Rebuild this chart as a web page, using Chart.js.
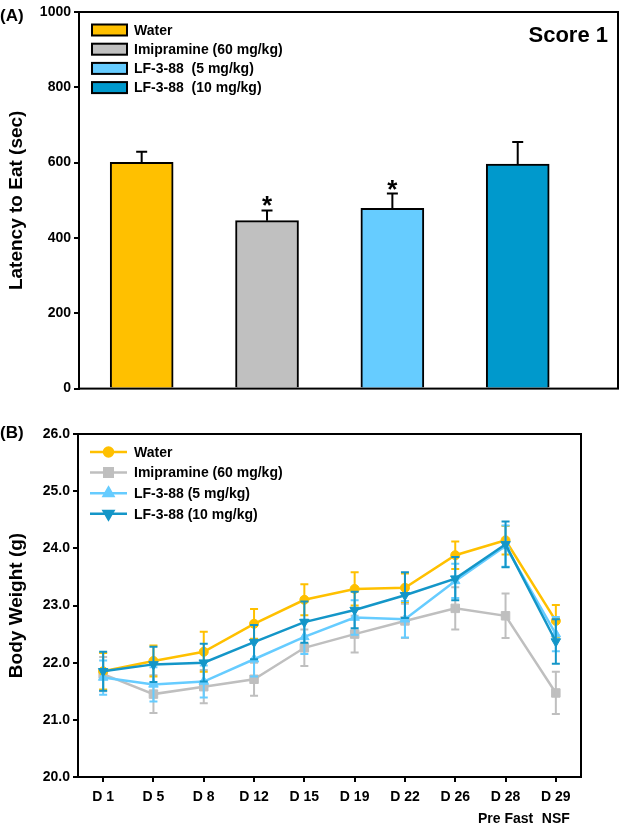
<!DOCTYPE html>
<html>
<head>
<meta charset="utf-8">
<script src="https://cdn.jsdelivr.net/npm/chart.js@4.4.1/dist/chart.umd.min.js"></script>
<style>
    body { margin: 0; background: #fff; }
    .wrap { position: relative; width: 622px; height: 831px; font-family: "Liberation Sans", Arial, sans-serif; }
    canvas { position: absolute; left: 0; }
    .tag { position: absolute; font-weight: bold; color: #000; line-height: 1; white-space: nowrap; }
</style>
</head>
<body>
<div class="wrap">
    <canvas id="latencyChart" width="622" height="400" style="top: 0;"></canvas>
    <canvas id="weightChart" width="622" height="431" style="top: 400px;"></canvas>
    <div class="tag" style="left: 0; top: 7px; font-size: 17px;">(A)</div>
    <div class="tag" style="left: 0; top: 424px; font-size: 17px;">(B)</div>
    <div class="tag" style="right: 14px; top: 24px; font-size: 22px;">Score 1</div>
</div>
<script>
// ---- data: panel A (latency to eat) ----
const groups = ['Water', 'Imipramine (60 mg/kg)', 'LF-3-88  (5 mg/kg)', 'LF-3-88  (10 mg/kg)'];
const latency = [601, 446, 479, 596];
const latencySem = [28, 27, 39, 59];
const significant = [false, true, true, false];
const latencyTicks = [0, 200, 400, 600, 800, 1000];

// ---- data: panel B (body weight) ----
const days = ['D 1', 'D 5', 'D 8', 'D 12', 'D 15', 'D 19', 'D 22', 'D 26', ['D 28', 'Pre Fast'], ['D 29', 'NSF']];
const seriesNames = ['Water', 'Imipramine (60 mg/kg)', 'LF-3-88 (5 mg/kg)', 'LF-3-88 (10 mg/kg)'];
const water = [21.85, 22.03, 22.19, 22.68, 23.10, 23.29, 23.31, 23.88, 24.14, 22.73];
const imipramine = [21.80, 21.45, 21.58, 21.71, 22.26, 22.50, 22.73, 22.95, 22.82, 21.47];
const lf5 = [21.74, 21.62, 21.67, 22.06, 22.45, 22.79, 22.76, 23.43, 24.04, 22.50];
const lf10 = [21.85, 21.97, 22.00, 22.36, 22.71, 22.92, 23.18, 23.47, 24.07, 22.37];
const waterSem = [0.32, 0.27, 0.35, 0.26, 0.27, 0.29, 0.25, 0.24, 0.25, 0.28];
const imipramineSem = [0.30, 0.33, 0.29, 0.29, 0.32, 0.32, 0.30, 0.37, 0.39, 0.37];
const lf5Sem = [0.30, 0.30, 0.28, 0.30, 0.30, 0.30, 0.32, 0.30, 0.36, 0.30];
const lf10Sem = [0.34, 0.31, 0.33, 0.30, 0.36, 0.32, 0.40, 0.38, 0.40, 0.39];
const weightTicks = [20, 21, 22, 23, 24, 25, 26];

const FONT = '"Liberation Sans", Arial, sans-serif';
const barColors = ['#FFC000', '#C0C0C0', '#66CCFF', '#0099CC'];
const lineColors = ['#FFC000', '#BFBFBF', '#66CCFF', '#1496C8'];

// frame round the plot area
const boxPlugin = {
    id: 'box',
    afterDraw(chart) {
        const { ctx, chartArea: a } = chart;
        ctx.save();
        ctx.strokeStyle = '#000';
        ctx.lineWidth = 2;
        ctx.strokeRect(a.left, a.top, a.right - a.left, a.bottom - a.top);
        ctx.restore();
    }
};

// panel A: SEM (upper only), asterisks, legend
const barExtras = {
    id: 'barExtras',
    afterDatasetsDraw(chart) {
        const { ctx, scales: { x, y } } = chart;
        ctx.save();
        ctx.strokeStyle = '#000';
        ctx.fillStyle = '#000';
        ctx.lineWidth = 2;
        latency.forEach((v, i) => {
            const px = x.getPixelForValue(i + 1);
            const top = y.getPixelForValue(v + latencySem[i]);
            ctx.beginPath();
            ctx.moveTo(px, y.getPixelForValue(v));
            ctx.lineTo(px, top);
            ctx.moveTo(px - 5.5, top);
            ctx.lineTo(px + 5.5, top);
            ctx.stroke();
            if (significant[i]) {
                ctx.font = 'bold 26px ' + FONT;
                ctx.textAlign = 'center';
                ctx.textBaseline = 'alphabetic';
                ctx.fillText('*', px, top + 4);
            }
        });
        // legend
        ctx.font = 'bold 14px ' + FONT;
        ctx.textAlign = 'left';
        ctx.textBaseline = 'middle';
        groups.forEach((g, i) => {
            const ry = 30 + i * 19.2;
            ctx.fillStyle = barColors[i];
            ctx.fillRect(92, ry - 5.5, 35, 11);
            ctx.strokeStyle = '#000';
            ctx.strokeRect(92, ry - 5.5, 35, 11);
            ctx.fillStyle = '#000';
            ctx.fillText(g, 134, ry + 1);
        });
        ctx.restore();
    }
};

new Chart(document.getElementById('latencyChart'), {
    type: 'bar',
    data: {
        datasets: [{
            data: latency.map((v, i) => ({ x: i + 1, y: v })),
            backgroundColor: barColors,
            borderColor: '#000',
            borderWidth: 2,
            barThickness: 63
        }]
    },
    options: {
        responsive: false,
        animation: false,
        layout: { padding: { top: 12, right: 4, bottom: 9, left: 0 } },
        plugins: { legend: { display: false }, tooltip: { enabled: false } },
        scales: {
            x: { type: 'linear', min: 0.5, max: 4.8, offset: false, display: false },
            y: {
                min: 0, max: 1000,
                afterBuildTicks: s => { s.ticks = latencyTicks.map(v => ({ value: v })); },
                afterFit: s => { s.width = 79; },
                border: { color: '#000', width: 2 },
                grid: { drawOnChartArea: false, color: '#000', lineWidth: 2, tickLength: 5 },
                ticks: {
                    color: '#000', padding: 3,
                    font: { family: FONT, size: 14, weight: 'bold' },
                    callback: v => String(v)
                },
                title: {
                    display: true, text: 'Latency to Eat (sec)', color: '#000',
                    padding: { top: 5, bottom: 0 },
                    font: { family: FONT, size: 19, weight: 'bold' }
                }
            }
        }
    },
    plugins: [barExtras, boxPlugin]
});

// panel B: SEM bars (both ways) and legend
const semByIndex = [waterSem, imipramineSem, lf5Sem, lf10Sem];
const lineExtras = {
    id: 'lineExtras',
    afterDatasetDraw(chart, args) {
        const { ctx, scales: { x, y } } = chart;
        const ds = chart.data.datasets[args.index];
        const sem = semByIndex[args.index];
        ctx.save();
        ctx.strokeStyle = ds.borderColor;
        ctx.lineWidth = 2;
        ds.data.forEach((v, i) => {
            const px = x.getPixelForValue(i);
            const hi = y.getPixelForValue(v + sem[i]);
            const lo = y.getPixelForValue(v - sem[i]);
            ctx.beginPath();
            ctx.moveTo(px, lo); ctx.lineTo(px, hi);
            ctx.moveTo(px - 4, hi); ctx.lineTo(px + 4, hi);
            ctx.moveTo(px - 4, lo); ctx.lineTo(px + 4, lo);
            ctx.stroke();
        });
        ctx.restore();
    },
    afterDraw(chart) {
        const ctx = chart.ctx;
        ctx.save();
        ctx.font = 'bold 14px ' + FONT;
        ctx.textAlign = 'left';
        ctx.textBaseline = 'middle';
        chart.data.datasets.forEach((ds, i) => {
            const ry = 52 + i * 20.6;
            ctx.strokeStyle = ds.borderColor;
            ctx.fillStyle = ds.borderColor;
            ctx.lineWidth = 2.5;
            ctx.beginPath();
            ctx.moveTo(90, ry); ctx.lineTo(127, ry);
            ctx.stroke();
            Chart.helpers.drawPoint(ctx, {
                pointStyle: ds.pointStyle, rotation: ds.pointRotation || 0,
                radius: ds.pointRadius, borderWidth: 1
            }, 108.5, ry);
            ctx.fillStyle = '#000';
            ctx.fillText(ds.label, 134, ry + 1);
        });
        ctx.restore();
    }
};

const series = [water, imipramine, lf5, lf10];
const styles = [
    { pointStyle: 'circle', pointRadius: 4.5, order: 2 },
    { pointStyle: 'rect', pointRadius: 6, order: 3 },
    { pointStyle: 'triangle', pointRadius: 5.5, order: 1 },
    { pointStyle: 'triangle', pointRadius: 5.5, pointRotation: 180, order: 0 }
];

new Chart(document.getElementById('weightChart'), {
    type: 'line',
    data: {
        labels: days,
        datasets: series.map((d, i) => ({
            label: seriesNames[i],
            data: d,
            borderColor: lineColors[i],
            backgroundColor: lineColors[i],
            pointBackgroundColor: lineColors[i],
            pointBorderColor: lineColors[i],
            borderWidth: 2.5,
            pointBorderWidth: 1,
            ...styles[i]
        }))
    },
    options: {
        responsive: false,
        animation: false,
        layout: { padding: { top: 34, right: 41, bottom: 0, left: 0 } },
        plugins: { legend: { display: false }, tooltip: { enabled: false } },
        scales: {
            x: {
                offset: true,
                afterFit: s => { s.height = 54; },
                border: { color: '#000', width: 2 },
                grid: { drawOnChartArea: false, color: '#000', lineWidth: 2, tickLength: 5 },
                ticks: {
                    color: '#000', padding: 4, maxRotation: 0, autoSkip: false,
                    font: { family: FONT, size: 14, weight: 'bold', lineHeight: 1.6 }
                }
            },
            y: {
                min: 20, max: 26,
                afterBuildTicks: s => { s.ticks = weightTicks.map(v => ({ value: v })); },
                afterFit: s => { s.width = 78; },
                border: { color: '#000', width: 2 },
                grid: { drawOnChartArea: false, color: '#000', lineWidth: 2, tickLength: 5 },
                ticks: {
                    color: '#000', padding: 3,
                    font: { family: FONT, size: 14, weight: 'bold' },
                    callback: v => v.toFixed(1)
                },
                title: {
                    display: true, text: 'Body Weight (g)', color: '#000',
                    padding: { top: 5, bottom: 0 },
                    font: { family: FONT, size: 19, weight: 'bold' }
                }
            }
        }
    },
    plugins: [lineExtras, boxPlugin]
});
</script>
</body>
</html>
